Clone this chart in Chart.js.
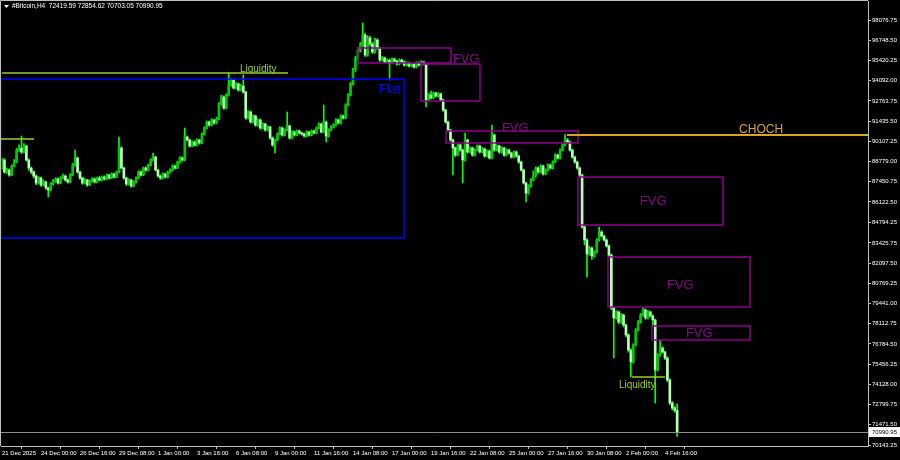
<!DOCTYPE html>
<html>
<head>
<meta charset="utf-8">
<title>#Bitcoin,H4</title>
<script src="https://cdn.jsdelivr.net/npm/chart.js@4.4.1/dist/chart.umd.min.js"></script>
<style>
  html, body { margin: 0; padding: 0; background: #000; }
  canvas { display: block; }
</style>
</head>
<body>
<canvas id="chart" width="900" height="460"></canvas>
<script>
// 1) DATA (H4 bars, 21 Dec 2025 08:00 -> 5 Feb 2026)
const xTickBars = [0, 16, 32, 48, 64, 80, 96, 112, 128, 144, 160, 176, 192, 208, 224, 240, 256, 272];
const xTickLabels = ["21 Dec 2025", "24 Dec 00:00", "26 Dec 16:00", "29 Dec 08:00", "1 Jan 00:00", "3 Jan 16:00",
  "6 Jan 08:00", "9 Jan 00:00", "11 Jan 16:00", "14 Jan 08:00", "17 Jan 00:00", "19 Jan 16:00",
  "22 Jan 08:00", "25 Jan 00:00", "27 Jan 16:00", "30 Jan 08:00", "2 Feb 00:00", "4 Feb 16:00"];
const yTickValues = [98076.75, 96748.50, 95420.25, 94092.00, 92763.75, 91435.50, 90107.25, 88779.00,
  87450.75, 86122.50, 84794.25, 83425.75, 82097.50, 80769.25, 79441.00, 78112.75, 76784.50,
  75456.25, 74128.00, 72799.75, 71471.50, 70143.25];

const open = [
  88353,88879,88091,88222,87893,88485,88748,89536,89668,89405,
  89800,88879,88353,88091,87828,87368,87696,87236,87434,87039,
  86907,87302,87499,87630,87368,87696,87828,87565,87434,87893,
  88550,89010,88091,87696,87368,87565,87236,87499,87630,87434,
  87696,87565,87762,87630,87893,87696,87959,87762,88091,89668,
  88353,87696,87302,87565,87171,87434,87696,88091,87893,88353,
  88222,88550,88879,89076,88222,87828,87696,87959,87762,88091,
  88222,88485,88353,88748,89010,88879,90391,90194,89800,90063,
  89865,90194,89997,90588,90982,91377,91179,91508,91311,91574,
  92560,93020,92297,93151,93809,94138,93612,93875,93480,93744,
  93349,91640,92035,91377,91772,91179,91508,90982,91245,90851,
  91048,90325,89865,90194,90588,90982,90522,90851,91114,90325,
  90720,90522,90785,90654,90588,90457,90720,90522,90785,90654,
  90982,91245,90720,91377,90457,90851,91048,91179,91508,91311,
  91772,91640,92494,93151,93875,94795,95583,96109,96438,97095,
  95780,96898,96504,95978,96767,96241,95452,95583,95321,95452,
  95255,95517,95386,95189,95452,95321,95123,95255,95058,95189,
  94992,95255,95123,95321,95189,92823,93151,92954,93283,93086,
  93217,92823,92166,91377,90851,90194,89668,89207,89865,89536,
  88879,90194,89405,89668,89207,89536,89800,89405,89602,89142,
  89470,89010,90522,89536,89800,89405,89668,89207,89536,89339,
  89076,89405,89142,88748,88222,87368,86700,87171,87565,87828,
  88353,88091,88485,87959,88222,88550,88353,88748,89207,89010,
  89536,89865,90194,90063,89536,89076,88748,88353,87893,84480,
  83621,82700,83095,82569,82832,83621,84147,83884,83621,83227,
  82634,79151,78494,78889,78231,78691,78033,77376,76390,75602,
  76719,77705,78231,78691,79020,78494,78889,78626,78362,75076,
  76061,76522,76259,75864,74419,72907,72578,72419.59
];
const high = [
  88990,88960,88350,88300,88560,88900,89640,89880,90460,89950,
  89860,88950,88420,88180,87900,87780,87760,87560,87500,87100,
  87390,87600,87720,87700,87780,87950,87890,87640,87980,88650,
  89536,89080,88150,87760,87650,87610,87580,87720,87700,87760,
  87800,87840,87830,87960,87950,88040,88020,88160,90391,89760,
  88420,87750,87640,87620,87520,87780,88170,88160,88420,88440,
  88620,88960,89339,89130,88290,87900,88030,88010,88150,88300,
  88560,88540,88810,89100,89080,90982,90470,90260,90140,90120,
  90270,90250,90660,91060,91450,91440,91590,91560,91680,92650,
  93150,93100,93230,94598,94250,94200,93960,93940,93830,94466,
  93400,92120,92100,91850,91830,91580,91570,91320,91300,91130,
  91100,90400,90260,90660,91060,91040,90930,92035,91180,90800,
  90790,90860,90850,90720,90650,90800,90780,90870,90840,91050,
  91330,91300,92494,91440,90930,91130,91260,91600,91570,91850,
  91840,92580,93240,93980,94900,95700,96250,96600,97884,97200,
  97050,97000,96600,96900,96850,96300,95680,95650,95530,95520,
  95600,95580,95450,95530,95510,95390,95330,95310,95260,95250,
  95330,95320,95400,95380,95250,93240,93400,93350,93340,93300,
  93280,92880,92220,91430,90900,90250,89740,89950,89930,89600,
  90654,90260,89750,89730,89620,89880,89860,89690,89660,89550,
  89530,91179,90580,89880,89860,89750,89730,89610,89600,89400,
  89480,89470,89200,88800,88290,87430,87250,87650,88160,88430,
  88420,88560,88540,88300,88620,88610,88820,89290,89270,89620,
  89950,90542,90300,90120,89600,89130,88810,88420,87950,84560,
  83700,83200,83160,82920,83700,84475,84230,83950,83700,83300,
  82700,79217,78980,78950,78780,78760,78100,77450,76460,76800,
  77800,78320,78790,79150,79100,78980,78950,78700,78420,76150,
  77048,76600,76320,75950,74500,73000,72680,72854.62
];
const low = [
  88280,88010,87990,87810,87850,88420,88700,89450,89300,89350,
  88800,88200,87980,87700,87250,87300,87150,87180,86950,86447,
  86850,87230,87420,87290,87320,87640,87480,87350,87390,87840,
  88480,88000,87600,87280,87300,87150,87190,87440,87360,87380,
  87500,87510,87560,87580,87620,87650,87700,87720,88020,88280,
  87610,87200,87230,87080,87110,87380,87640,87820,87850,88130,
  88170,88500,88820,88150,87750,87600,87640,87690,87700,88030,
  88170,88280,88300,88690,88800,88830,90120,89720,89740,89790,
  89810,89920,89950,90520,90920,91100,91120,91230,91250,91520,
  92480,92200,92240,93080,93730,93530,93550,93400,93420,93270,
  91540,91580,91300,91320,91090,91110,90900,90920,90760,90790,
  90240,89780,89339,90130,90520,90440,90460,90790,90240,90260,
  90450,90470,90580,90510,90380,90400,90450,90460,90590,90600,
  90920,90640,90660,90063,90390,90790,90980,91120,91240,91250,
  91570,91580,92430,93080,93800,94700,95500,95990,96350,95680,
  95700,96400,95880,95900,96150,95350,95390,95250,95260,94138,
  95190,95320,95110,95130,95250,95050,95060,94980,94990,94920,
  94930,95050,95070,95120,92363,92760,92880,92900,93010,93020,
  92750,92080,91290,90770,90100,87894,89100,89150,89450,87368,
  88800,89320,89340,89120,89150,89470,89330,89340,89060,89080,
  88930,88950,89450,89470,89320,89340,89120,89150,89260,88990,
  89010,89060,88660,88140,87290,86119,86640,87100,87500,87760,
  88010,88030,87880,87900,88160,88280,88290,88690,88930,88950,
  89470,89800,89980,89450,88990,88660,88270,87780,84400,83300,
  81189,82620,82350,82480,82760,83550,83800,83540,83150,82503,
  79050,75864,78420,78120,78150,77900,77250,76250,74616,75520,
  76650,77640,78160,78620,78400,78420,78550,77968,72907,75000,
  75990,76180,75760,74300,72800,72450,72300,70703.05
];
const close = [
  88879,88091,88222,87893,88485,88748,89536,89668,89405,89800,
  88879,88353,88091,87828,87368,87696,87236,87434,87039,86907,
  87302,87499,87630,87368,87696,87828,87565,87434,87893,88550,
  89010,88091,87696,87368,87565,87236,87499,87630,87434,87696,
  87565,87762,87630,87893,87696,87959,87762,88091,89668,88353,
  87696,87302,87565,87171,87434,87696,88091,87893,88353,88222,
  88550,88879,89076,88222,87828,87696,87959,87762,88091,88222,
  88485,88353,88748,89010,88879,90391,90194,89800,90063,89865,
  90194,89997,90588,90982,91377,91179,91508,91311,91574,92560,
  93020,92297,93151,93809,94138,93612,93875,93480,93744,93349,
  91640,92035,91377,91772,91179,91508,90982,91245,90851,91048,
  90325,89865,90194,90588,90982,90522,90851,91114,90325,90720,
  90522,90785,90654,90588,90457,90720,90522,90785,90654,90982,
  91245,90720,91377,90457,90851,91048,91179,91508,91311,91772,
  91640,92494,93151,93875,94795,95583,96109,96438,97095,95780,
  96898,96504,95978,96767,96241,95452,95583,95321,95452,95255,
  95517,95386,95189,95452,95321,95123,95255,95058,95189,94992,
  95255,95123,95321,95189,92823,93151,92954,93283,93086,93217,
  92823,92166,91377,90851,90194,89668,89207,89865,89536,88879,
  90194,89405,89668,89207,89536,89800,89405,89602,89142,89470,
  89010,90522,89536,89800,89405,89668,89207,89536,89339,89076,
  89405,89142,88748,88222,87368,86700,87171,87565,87828,88353,
  88091,88485,87959,88222,88550,88353,88748,89207,89010,89536,
  89865,90194,90063,89536,89076,88748,88353,87893,84480,83621,
  82700,83095,82569,82832,83621,84147,83884,83621,83227,82634,
  79151,78494,78889,78231,78691,78033,77376,76390,75602,76719,
  77705,78231,78691,79020,78494,78889,78626,78362,75076,76061,
  76522,76259,75864,74419,72907,72578,72420,70990.95
];

// 2) CHART OBJECTS (bar index / price)
const liquidity = [
  { from: -0.4, to: 13, price: 90260 },
  { from: 0, to: 117.3, price: 94598, text: "Liquidity", textBar: 97.6, textPrice: 94664 },
  { from: 258.5, to: 272, price: 74616, text: "Liquidity", textBar: 253.1, textPrice: 73893 }
];
const fvgZones = [
  { from: 146.1, to: 184.2, top: 96240, bottom: 95255, textBar: 185.0, textPrice: 95255 },
  { from: 171.9, to: 196.1, top: 95189, bottom: 92757 },
  { from: 182.2, to: 236.3, top: 90785, bottom: 89997, textBar: 205.1, textPrice: 90720 },
  { from: 236.3, to: 295.8, top: 87762, bottom: 84606, textBar: 261.7, textPrice: 85921 },
  { from: 248.6, to: 306.9, top: 82503, bottom: 79217, textBar: 272.8, textPrice: 80400 },
  { from: 266.7, to: 306.9, top: 77968, bottom: 77048, textBar: 280.6, textPrice: 77245 }
];
const flat = { from: -0.4, to: 164.9, top: 94204, bottom: 83752, textBar: 154.7, textPrice: 93283 };
const choch = { from: 231.8, price: 90542, textBar: 302.4, textPrice: 90654 };
const header = "#Bitcoin,H4  72419.59 72854.62 70703.05 70990.95";

// 3) STYLE
const FONT = "'Liberation Sans', Arial, sans-serif";
const FRAME = "#c0c0c0";
const WICK = "#00ff00";
const BULL = "#00c800";
const BEAR = "#b8ffb8";
const LIQ = "#9acd32";
const FVG = "#8b008b";

const bodyColors = close.map((c, i) => c >= open[i] ? BULL : BEAR);

const overlays = {
  id: "overlays",
  afterDatasetsDraw(chart) {
    const { ctx, chartArea: a, scales: { x, y } } = chart;
    ctx.save();
    ctx.beginPath();
    ctx.rect(a.left, a.top, a.right - a.left, a.bottom - a.top);
    ctx.clip();
    const px = v => Math.round(x.getPixelForValue(v));
    const py = v => Math.round(y.getPixelForValue(v));
    const hline = (x1, x2, yv, color, w) => {
      ctx.strokeStyle = color; ctx.lineWidth = w;
      ctx.beginPath(); ctx.moveTo(x1, yv); ctx.lineTo(x2, yv); ctx.stroke();
    };
    const box = (z, color) => {
      ctx.strokeStyle = color; ctx.lineWidth = 1.5;
      ctx.strokeRect(px(z.from), py(z.top), px(z.to) - px(z.from), py(z.bottom) - py(z.top));
    };
    const label = (t, bar, price, color, size) => {
      ctx.fillStyle = color;
      ctx.font = size + "px " + FONT;
      ctx.textAlign = "left"; ctx.textBaseline = "alphabetic";
      ctx.fillText(t, x.getPixelForValue(bar), y.getPixelForValue(price));
    };

    // current price line
    hline(a.left, a.right, py(close[close.length - 1]) + 0.5, "#8c8c8c", 1);

    // flat range
    box(flat, "#0000ff");
    label("Flat", flat.textBar, flat.textPrice, "#0000ff", 13);

    // fair value gaps
    fvgZones.forEach(z => {
      box(z, FVG);
      if (z.textBar !== undefined) label("FVG", z.textBar, z.textPrice, FVG, 13);
    });

    // liquidity levels
    liquidity.forEach(l => {
      hline(px(l.from), px(l.to), py(l.price), LIQ, 1.5);
      if (l.text) label(l.text, l.textBar, l.textPrice, LIQ, 10);
    });

    // change of character
    hline(px(choch.from), a.right, py(choch.price), "#daa520", 2);
    label("CHOCH", choch.textBar, choch.textPrice, "#daa520", 12);
    ctx.restore();
  },
  afterDraw(chart) {
    const { ctx, chartArea: a, scales: { y } } = chart;
    ctx.save();
    // frame top / left
    ctx.strokeStyle = FRAME; ctx.lineWidth = 1;
    ctx.beginPath();
    ctx.moveTo(a.left - 0.5, a.bottom); ctx.lineTo(a.left - 0.5, a.top - 0.5); ctx.lineTo(a.right, a.top - 0.5);
    ctx.stroke();

    // header
    ctx.fillStyle = "#ffffff";
    ctx.beginPath(); ctx.moveTo(4, 5); ctx.lineTo(9, 5); ctx.lineTo(6.5, 8); ctx.closePath(); ctx.fill();
    ctx.font = "6.5px " + FONT;
    ctx.textAlign = "left"; ctx.textBaseline = "middle";
    ctx.fillText(header, 12, 6.5);

    // last price tag
    const last = close[close.length - 1];
    const ly = Math.round(y.getPixelForValue(last));
    ctx.fillStyle = "#ffffff";
    ctx.fillRect(a.right + 1, ly - 5, 31, 10);
    ctx.fillStyle = "#000000";
    ctx.font = "6px " + FONT;
    ctx.fillText(last.toFixed(2), a.right + 4, ly + 0.5);
    ctx.restore();
  }
};

// 4) CHART
new Chart(document.getElementById("chart"), {
  type: "bar",
  data: {
    datasets: [
      {
        label: "body",
        data: close.map((c, i) => ({ x: i, y: [open[i], c] })),
        backgroundColor: bodyColors,
        barThickness: 2,
        minBarLength: 1,
        grouped: false,
        order: 1
      },
      {
        label: "wick",
        data: close.map((c, i) => ({ x: i, y: [low[i], high[i]] })),
        backgroundColor: WICK,
        barThickness: 1,
        grouped: false,
        order: 2
      }
    ]
  },
  options: {
    responsive: false,
    animation: false,
    devicePixelRatio: 1,
    layout: { padding: { top: 1, left: 1, right: 0, bottom: 0 } },
    plugins: { legend: { display: false }, tooltip: { enabled: false } },
    scales: {
      x: {
        type: "linear",
        min: -0.41,
        max: 355.3,
        offset: false,
        afterBuildTicks: s => { s.ticks = xTickBars.map(v => ({ value: v })); },
        afterFit: s => { s.height = 14; s.paddingLeft = 0; s.paddingRight = 0; },
        grid: { drawOnChartArea: false, color: FRAME, tickLength: 3 },
        border: { color: FRAME },
        ticks: {
          autoSkip: false, maxRotation: 0, align: "start", padding: 1,
          color: "#ffffff", font: { family: FONT, size: 6 },
          callback: (v, i) => xTickLabels[i]
        }
      },
      y: {
        type: "linear",
        position: "right",
        min: 70080,
        max: 99330,
        afterBuildTicks: s => { s.ticks = yTickValues.map(v => ({ value: v })); },
        afterFit: s => { s.width = 32; s.paddingTop = 0; s.paddingBottom = 0; },
        grid: { drawOnChartArea: false, color: FRAME, tickLength: 3 },
        border: { color: FRAME },
        ticks: {
          padding: 1, color: "#ffffff", font: { family: FONT, size: 6 },
          callback: v => v.toFixed(2)
        }
      }
    }
  },
  plugins: [overlays]
});
</script>
</body>
</html>
